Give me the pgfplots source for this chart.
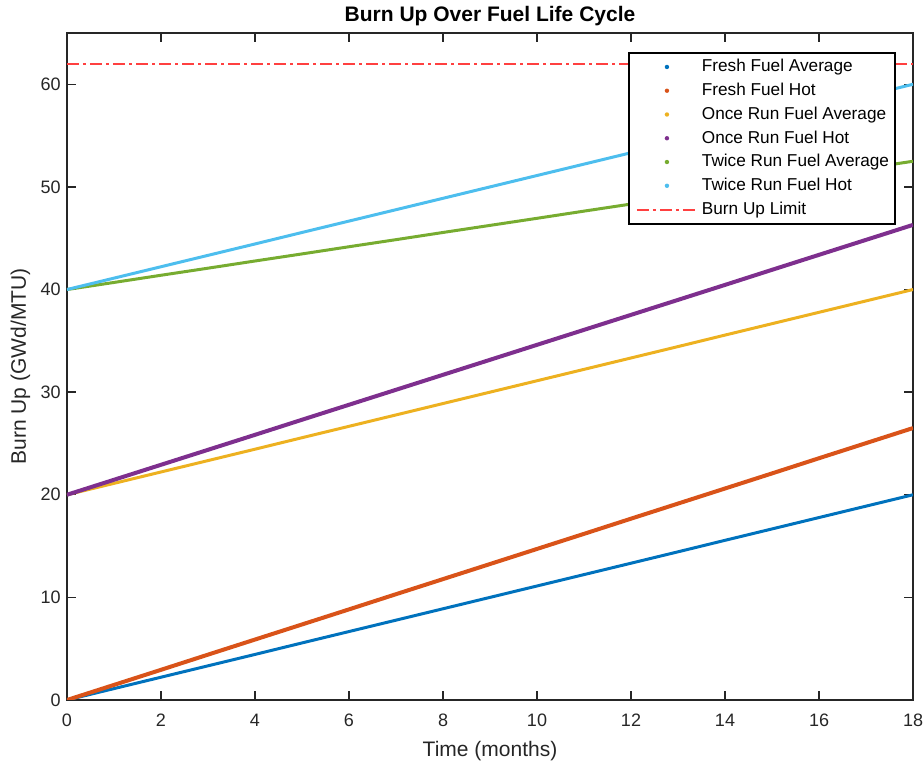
\documentclass[border=0pt]{standalone}
\usepackage{fontspec}
\setmainfont{Liberation Sans}
\usepackage{pgfplots}
\pgfplotsset{compat=1.18}
\definecolor{mblue}{rgb}{0,0.447,0.741}
\definecolor{morange}{rgb}{0.85,0.325,0.098}
\definecolor{myellow}{rgb}{0.929,0.694,0.125}
\definecolor{mpurple}{rgb}{0.494,0.184,0.556}
\definecolor{mgreen}{rgb}{0.466,0.674,0.188}
\definecolor{mcyan}{rgb}{0.301,0.745,0.933}
\definecolor{mred}{rgb}{1,0.25,0.25}
\definecolor{axgray}{rgb}{0.15,0.15,0.15}
\pgfplotsset{
  dotlegend/.style={legend image code/.code={
      \path[draw=none,fill=none] (-3pt,0pt) -- (30pt,0pt);
      \fill[draw=none] (15pt,0pt) circle (1.1pt);}},
  linelegend/.style={legend image code/.code={
      \path[draw=none,fill=none] (-3pt,0pt) -- (30pt,0pt);
      \draw (0pt,0pt) -- (30pt,0pt);}}
}
\begin{document}
\fontsize{9}{11}\selectfont
\begin{tikzpicture}
\path[use as bounding box] (-33.5pt,-31.5pt) rectangle (428.5pt,350pt);
\begin{axis}[
  at={(0,0)}, anchor=origin,
  scale only axis, width=423pt, height=333.5pt,
  xmin=0, xmax=18, ymin=0, ymax=65,
  xtick={0,2,...,18}, ytick={0,10,...,60},
  tick align=inside, major tick length=4.5pt,
  axis line style={axgray, line width=0.65pt},
  every tick/.style={axgray, line width=0.65pt},
  tick label style={font=\fontsize{9}{11}\selectfont, text=axgray},
  xticklabel style={yshift=-4pt},
  /pgf/number format/assume math mode=true,
  title={\bfseries Burn Up Over Fuel Life Cycle},
  title style={font=\fontsize{10.5}{12}\selectfont, yshift=-5.5pt},
  xlabel={Time (months)},
  ylabel={Burn Up (GWd/MTU)},
  label style={font=\fontsize{10.5}{12}\selectfont, text=axgray},
  xlabel style={yshift=-1pt},
  ylabel style={yshift=-1pt},
  legend style={at={(rel axis cs:1,1)}, anchor=north east, xshift=-8.5pt, yshift=-9.5pt,
    draw=black, line width=1pt, fill=white, font=\fontsize{8.6}{10}\selectfont,
    row sep=0.3pt, inner xsep=1pt, inner ysep=1.2pt,
    /tikz/every even column/.append style={column sep=3pt}},
  legend cell align=left,
]
\addplot[mblue, line width=1.5pt, dotlegend] coordinates {
(0,0) (1,1.11) (2,2.22) (3,3.33) (4,4.44) (5,5.56) (6,6.67) (7,7.78) (8,8.89) (9,10.0)
(10,11.11) (11,12.22) (12,13.33) (13,14.44) (14,15.56) (15,16.67) (16,17.78) (17,18.89) (18,20.0)};
\addlegendentry{Fresh Fuel Average}
\addplot[morange, line width=2pt, dotlegend] coordinates {
(0,0) (1,1.47) (2,2.94) (3,4.42) (4,5.89) (5,7.36) (6,8.83) (7,10.31) (8,11.78) (9,13.25)
(10,14.72) (11,16.19) (12,17.67) (13,19.14) (14,20.61) (15,22.08) (16,23.56) (17,25.03) (18,26.5)};
\addlegendentry{Fresh Fuel Hot}
\addplot[myellow, line width=1.5pt, dotlegend] coordinates {
(0,20) (1,21.11) (2,22.22) (3,23.33) (4,24.44) (5,25.56) (6,26.67) (7,27.78) (8,28.89) (9,30.0)
(10,31.11) (11,32.22) (12,33.33) (13,34.44) (14,35.56) (15,36.67) (16,37.78) (17,38.89) (18,40.0)};
\addlegendentry{Once Run Fuel Average}
\addplot[mpurple, line width=2pt, dotlegend] coordinates {
(0,20) (1,21.46) (2,22.92) (3,24.38) (4,25.84) (5,27.31) (6,28.77) (7,30.23) (8,31.69) (9,33.15)
(10,34.61) (11,36.07) (12,37.53) (13,38.99) (14,40.45) (15,41.92) (16,43.38) (17,44.84) (18,46.3)};
\addlegendentry{Once Run Fuel Hot}
\addplot[mgreen, line width=1.5pt, dotlegend] coordinates {
(0,40) (1,40.69) (2,41.39) (3,42.08) (4,42.78) (5,43.47) (6,44.17) (7,44.86) (8,45.56) (9,46.25)
(10,46.94) (11,47.64) (12,48.33) (13,49.03) (14,49.72) (15,50.42) (16,51.11) (17,51.81) (18,52.5)};
\addlegendentry{Twice Run Fuel Average}
\addplot[mcyan, line width=1.5pt, dotlegend] coordinates {
(0,40) (1,41.11) (2,42.22) (3,43.33) (4,44.44) (5,45.56) (6,46.67) (7,47.78) (8,48.89) (9,50.0)
(10,51.11) (11,52.22) (12,53.33) (13,54.44) (14,55.56) (15,56.67) (16,57.78) (17,58.89) (18,60.0)};
\addlegendentry{Twice Run Fuel Hot}
\addplot[color=mred, line width=1pt, dash pattern=on 6pt off 2pt on 1.5pt off 2pt, linelegend] coordinates {(0,62) (18,62)};
\addlegendentry{Burn Up Limit}
\end{axis}
\end{tikzpicture}
\end{document}
